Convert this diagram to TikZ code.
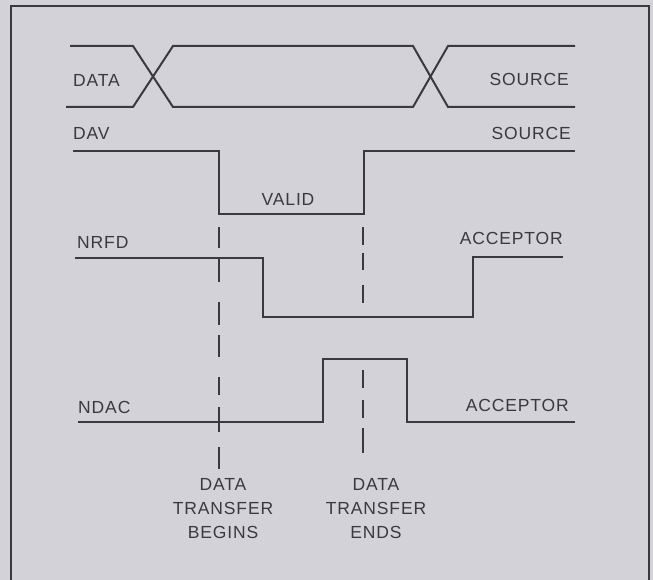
\documentclass[tikz,border=0pt]{standalone}
\usepackage{fontspec}
\setmainfont[LetterSpace=5]{Liberation Sans}
\definecolor{bgc}{HTML}{D2D2D8}
\definecolor{ink}{HTML}{3A3A3E}
\begin{document}
\begin{tikzpicture}[x=1pt,y=-1pt,
  sig/.style={draw=ink,line width=2pt,line join=miter},
  frm/.style={draw=ink,line width=1.2pt},
  dsh/.style={draw=ink,line width=1.6pt},
  lbl/.style={text=ink,inner sep=0pt,font=\fontsize{17.5}{24}\selectfont,text height=12.5pt,text depth=0pt},
  ml/.style={text=ink,inner sep=0pt,font=\fontsize{17.5}{24}\selectfont,align=center}]
\fill[bgc] (0,0) rectangle (653,580);
\useasboundingbox (0,0) rectangle (653,580);
% frame (open at bottom)
\draw[frm] (11,580) -- (11,6) -- (649,6) -- (649,580);
% DATA bus
\draw[sig] (70,46) -- (133,46) -- (173,107) -- (413,107) -- (448,46) -- (575,46);
\draw[sig] (66,107) -- (133,107) -- (173,46) -- (413,46) -- (448,107) -- (575,107);
\node[lbl,anchor=west] (data) at (73,80) {DATA};
\node[lbl,anchor=east] (src1) at (569,79) {SOURCE};
% DAV
\draw[sig] (73,151) -- (219,151) -- (219,214) -- (364,214) -- (364,151) -- (575,151);
\node[lbl,anchor=west] (dav) at (73,133) {DAV};
\node[lbl,anchor=east] (src2) at (571,133) {SOURCE};
\node[lbl] (valid) at (288,199) {VALID};
% NRFD
\draw[sig] (75,258) -- (263,258) -- (263,317) -- (473,317) -- (473,257) -- (563,257);
\node[lbl,anchor=west] (nrfd) at (77,242) {NRFD};
\node[lbl,anchor=east] (acc1) at (563,238) {ACCEPTOR};
% NDAC
\draw[sig] (78,422) -- (323,422) -- (323,359) -- (407,359) -- (407,422) -- (575,422);
\node[lbl,anchor=west] (ndac) at (78,407) {NDAC};
\node[lbl,anchor=east] (acc2) at (569,405) {ACCEPTOR};
% dashed markers
\foreach \a/\b in {227/248,258/282,302/325,335/357,377/395,407/432,447/469}
  \draw[dsh] (219,\a) -- (219,\b);
\foreach \a/\b in {227/245,253/270,285/303,370/388,400/418,428/453}
  \draw[dsh] (363,\a) -- (363,\b);
% bottom labels
\node[ml,anchor=north] (begins) at (223,478.5) {DATA\\TRANSFER\\BEGINS};
\node[ml,anchor=north] (ends) at (376,478.5) {DATA\\TRANSFER\\ENDS};
\end{tikzpicture}
\end{document}
